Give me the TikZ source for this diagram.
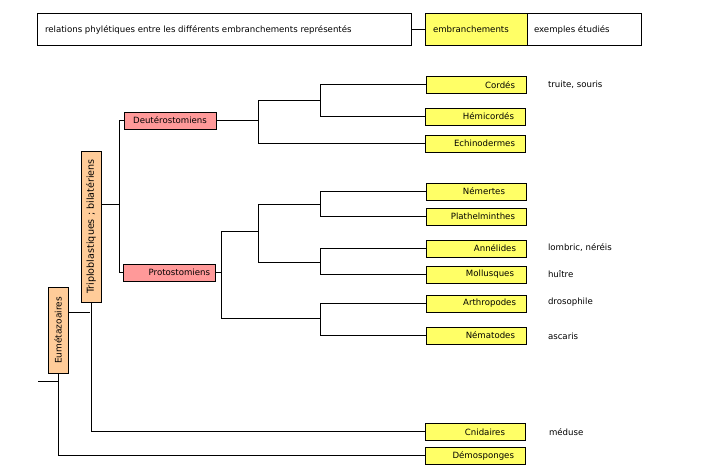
\documentclass[tikz,border=0pt]{standalone}
\usepackage{fontspec}
\setmainfont{DejaVu Sans}
\definecolor{embyellow}{RGB}{255,255,102}
\definecolor{grppink}{RGB}{255,153,153}
\definecolor{grporange}{RGB}{255,204,153}
\begin{document}
\begin{tikzpicture}[x=1pt,y=-1pt,
  every node/.style={font=\fontsize{8.6}{10}\selectfont, inner sep=0pt, outer sep=0pt},
  emb/.style={draw=black, fill=embyellow, line width=0.9pt, minimum width=100pt, minimum height=17pt, anchor=north west},
  grp/.style={draw=black, fill=grppink, line width=0.8pt, minimum width=92pt, minimum height=17pt, anchor=north west},
  vgrp/.style={draw=black, fill=grporange, line width=0.8pt, minimum width=20pt, anchor=north west},
  vtxt/.style={rotate=90, font=\fontsize{9}{10}\selectfont},
  lab/.style={anchor=east},
  ex/.style={anchor=west},
  link/.style={draw=black, line width=0.8pt}]
\useasboundingbox (0,0) rectangle (720,476);
% header
\node[draw, line width=0.8pt, minimum width=374pt, minimum height=32pt, anchor=north west] (hdr) at (37,13) {};
\node[anchor=west] (hdrtxt) at (45,30) {relations phylétiques entre les différents embranchements représentés};
\node[draw, fill=embyellow, line width=0.8pt, minimum width=102pt, minimum height=32pt, anchor=north west] (hemb) at (425,13) {};
\node[anchor=west] (hembtxt) at (433,29.5) {embranchements};
\node[draw, line width=0.8pt, minimum width=114pt, minimum height=32pt, anchor=north west] (hex) at (527,13) {};
\node[anchor=west] (hextxt) at (534,29.5) {exemples étudiés};
\draw[link] (hdr.east) -- (hemb.west);

% embranchements
\node[emb] (cordes) at (426,76) {}; \node[lab] at (515,85) {Cordés};
\node[emb] (hemi) at (425,108) {}; \node[lab] at (514,116.5) {Hémicordés};
\node[emb] (echi) at (425,135) {}; \node[lab] at (515,143.5) {Echinodermes};
\node[emb] (nem) at (426,183) {}; \node[lab] at (505,191.5) {Némertes};
\node[emb] (plat) at (426,208) {}; \node[lab] at (515,216.5) {Plathelminthes};
\node[emb] (anne) at (426,240) {}; \node[lab] at (516,248) {Annélides};
\node[emb] (moll) at (426,266) {}; \node[lab] at (514,274.5) {Mollusques};
\node[emb] (arth) at (426,295) {}; \node[lab] at (516,303) {Arthropodes};
\node[emb] (nemat) at (426,327) {}; \node[lab] at (515,335.5) {Nématodes};
\node[emb] (cnid) at (425,423) {}; \node[lab] at (505,432) {Cnidaires};
\node[emb] (demo) at (425,447) {}; \node[lab] at (514,456) {Démosponges};

% examples
\node[ex] at (548,85) {truite, souris};
\node[ex] at (548,247.5) {lombric, néréis};
\node[ex] at (548,274) {huître};
\node[ex] at (548,302.5) {drosophile};
\node[ex] at (548,336) {ascaris};
\node[ex] at (549,432.5) {méduse};

% groups
\node[grp] (deut) at (124,112) {}; \node[anchor=center] at (170,120.5) {Deutérostomiens};
\node[grp] (proto) at (123,264) {}; \node[anchor=east] at (210,272.5) {Protostomiens};
\node[vgrp, minimum height=151pt] (tripl) at (81,151) {};
\node[vtxt, font=\fontsize{9.6}{10}\selectfont] at (91,226.5) {Triploblastiques ; bilatériens};
\node[vgrp, minimum height=86pt] (eumet) at (48,287) {};
\node[vtxt] at (58,330.5) {Eumétazoaires};

% junction coordinates
\coordinate (jD) at (258,120.5);
\coordinate (jCH) at (320,100);
\coordinate (jP) at (221,272.5);
\coordinate (jP1) at (258,231);
\coordinate (jNP) at (320,204);
\coordinate (jAM) at (320,262);
\coordinate (jAN) at (320,318);
\coordinate (jT) at (119,204);
\coordinate (jE) at (90,312);
\coordinate (root) at (38,381);
\coordinate (jR) at (58,381);

% connectors
\draw[link] (deut.east) -- (jD);
\draw[link] (jCH) |- (cordes.west);
\draw[link] (jCH) |- (hemi.west);
\draw[link] (jD) |- (jCH);
\draw[link] (jD) |- (echi.west);

\draw[link] (proto.east) -- (jP);
\draw[link] (jP) |- (jP1);
\draw[link] (jP) |- (jAN);
\draw[link] (jP1) |- (jNP);
\draw[link] (jP1) |- (jAM);
\draw[link] (jNP) |- (nem.west);
\draw[link] (jNP) |- (plat.west);
\draw[link] (jAM) |- (anne.west);
\draw[link] (jAM) |- (moll.west);
\draw[link] (jAN) |- (arth.west);
\draw[link] (jAN) |- (nemat.west);

\draw[link] (tripl.east |- jT) -- (jT);
\draw[link] (jT) |- (deut.west);
\draw[link] (jT) |- (proto.west);

\draw[link] (eumet.east |- jE) -- (jE);
\draw[link] (tripl.south) -- (tripl.south |- cnid.west) -- (cnid.west);

\draw[link] (root) -- (jR);
\draw[link] (eumet.south) -- (eumet.south |- demo.west) -- (demo.west);
\end{tikzpicture}
\end{document}
